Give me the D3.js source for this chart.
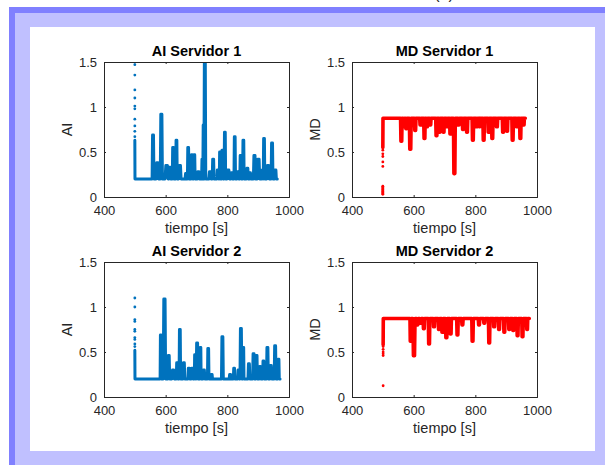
<!DOCTYPE html>
<html>
<head>
<meta charset="utf-8">
<script src="https://cdn.jsdelivr.net/npm/d3@7"></script>
<style>
  html, body { margin: 0; padding: 0; background: #fff; }
  svg { display: block; font-family: "Liberation Sans", Arial, Helvetica, sans-serif; }
</style>
</head>
<body>
<svg id="chart" width="605" height="465"></svg>
<script>
// ---- data -------------------------------------------------------------
const xTicks = [400, 600, 800, 1000];
const yTicks = [0, 0.5, 1, 1.5];
const xLabel = "tiempo [s]";

// Servidor 1, AI: baseline, active span, start-up burst and spikes (time, peak, duration s)
const ai1Base = 0.2;
const ai1Span = [502, 962];
const ai1BurstT = 500;
const ai1Burst = [1.5, 1.47, 1.355, 1.19, 1.1, 1.01, 0.98, 0.865, 0.79, 0.73, 0.67];
const ai1BurstRun = [0.63, 0.2];
const ai1SpikeT = [559, 573, 586, 603, 613, 624, 635, 646, 666, 673, 685, 693, 706, 719, 723, 727, 744, 754, 769, 776, 784, 792, 803, 814, 824, 834, 843, 852, 865, 874, 888, 901, 913, 919, 932, 945, 956];
const ai1SpikeV = [0.69, 0.38, 0.92, 0.35, 0.33, 0.55, 0.63, 0.35, 0.26, 0.55, 0.47, 0.47, 0.28, 0.42, 0.8, 1.5, 0.28, 0.42, 0.3, 0.5, 0.52, 0.72, 0.3, 0.27, 0.67, 0.28, 0.46, 0.63, 0.32, 0.27, 0.46, 0.42, 0.3, 0.65, 0.35, 0.6, 0.3];
const ai1SpikeW = [6, 8, 7, 10, 6, 5, 5, 8, 6, 5, 5, 5, 8, 5, 5, 6, 8, 6, 6, 4, 5, 5, 8, 5, 5, 6, 5, 5, 6, 4, 7, 8, 4, 5, 8, 6, 6];

// Servidor 1, MD
const md1Base = 0.875;
const md1Span = [503, 962];
const md1BurstT = 500;
const md1Burst = [0.03, 0.04, 0.05, 0.06, 0.07, 0.08, 0.09, 0.1, 0.11, 0.12, 0.34, 0.39, 0.45, 0.48, 0.52];
const md1BurstRun = [0.55, 0.875];
const md1SpikeT = [560, 568, 576, 589, 605, 622, 635, 643, 654, 674, 684, 697, 708, 719, 732, 746, 760, 773, 792, 805, 814, 827, 843, 855, 870, 890, 903, 921, 935, 946, 957];
const md1SpikeV = [0.62, 0.78, 0.76, 0.53, 0.74, 0.8, 0.65, 0.78, 0.8, 0.68, 0.72, 0.72, 0.78, 0.7, 0.26, 0.8, 0.75, 0.72, 0.63, 0.78, 0.78, 0.63, 0.72, 0.65, 0.78, 0.72, 0.73, 0.63, 0.78, 0.65, 0.8];
const md1SpikeW = [5, 5, 5, 6, 5, 5, 5, 5, 5, 5, 5, 5, 5, 5, 6, 5, 5, 5, 5, 5, 4, 5, 5, 5, 5, 5, 5, 5, 5, 5, 4];

// Servidor 2, AI
const ai2Base = 0.2;
const ai2Span = [502, 971];
const ai2BurstT = 500;
const ai2Burst = [1.1, 1.0, 0.86, 0.84, 0.75, 0.73, 0.66, 0.64, 0.59, 0.56];
const ai2BurstRun = [0.52, 0.2];
const ai2SpikeT = [584, 596, 610, 624, 637, 646, 659, 675, 686, 695, 702, 713, 724, 738, 749, 784, 809, 822, 836, 844, 852, 870, 885, 895, 906, 917, 930, 941, 955, 966];
const ai2SpikeV = [0.69, 1.09, 0.46, 0.3, 0.38, 0.75, 0.38, 0.32, 0.32, 0.47, 0.6, 0.55, 0.3, 0.54, 0.25, 0.67, 0.25, 0.32, 0.3, 0.76, 0.55, 0.37, 0.48, 0.46, 0.34, 0.4, 0.55, 0.35, 0.57, 0.42];
const ai2SpikeW = [4, 8, 6, 8, 5, 5, 6, 6, 6, 4, 6, 4, 6, 5, 6, 6, 6, 5, 5, 6, 4, 6, 6, 5, 5, 5, 6, 6, 6, 5];

// Servidor 2, MD
const md2Base = 0.872;
const md2Span = [503, 975];
const md2BurstT = 501;
const md2Burst = [0.125, 0.46, 0.48, 0.5, 0.53, 0.56];
const md2BurstRun = [0.58, 0.872];
const md2SpikeT = [590, 601, 612, 622, 633, 650, 666, 682, 693, 706, 720, 742, 758, 791, 812, 829, 845, 861, 877, 894, 910, 923, 937, 953, 968];
const md2SpikeV = [0.62, 0.46, 0.8, 0.82, 0.76, 0.59, 0.78, 0.75, 0.72, 0.66, 0.7, 0.69, 0.8, 0.62, 0.8, 0.82, 0.6, 0.78, 0.75, 0.72, 0.75, 0.74, 0.68, 0.67, 0.75];
const md2SpikeW = [4, 7, 5, 5, 5, 5, 5, 5, 5, 6, 5, 5, 5, 5, 5, 5, 5, 5, 5, 5, 5, 5, 5, 5, 4];

const panels = [
  { title: "AI Servidor 1", ylab: "AI", color: "#0072BD", col: 0, row: 0,
    base: ai1Base, span: ai1Span, burstT: ai1BurstT, burst: ai1Burst, run: ai1BurstRun,
    st: ai1SpikeT, sv: ai1SpikeV, sw: ai1SpikeW, stroke: 3 },
  { title: "MD Servidor 1", ylab: "MD", color: "#FF0000", col: 1, row: 0,
    base: md1Base, span: md1Span, burstT: md1BurstT, burst: md1Burst, run: md1BurstRun,
    st: md1SpikeT, sv: md1SpikeV, sw: md1SpikeW, stroke: 3.6 },
  { title: "AI Servidor 2", ylab: "AI", color: "#0072BD", col: 0, row: 1,
    base: ai2Base, span: ai2Span, burstT: ai2BurstT, burst: ai2Burst, run: ai2BurstRun,
    st: ai2SpikeT, sv: ai2SpikeV, sw: ai2SpikeW, stroke: 3 },
  { title: "MD Servidor 2", ylab: "MD", color: "#FF0000", col: 1, row: 1,
    base: md2Base, span: md2Span, burstT: md2BurstT, burst: md2Burst, run: md2BurstRun,
    st: md2SpikeT, sv: md2SpikeV, sw: md2SpikeW, stroke: 3.6 }
];

// ---- layout -----------------------------------------------------------
const svg = d3.select("#chart");
const ink = "#262626";
const colX = [104, 352], rowY = [62, 262];
const pw = 185, ph = 135;

// page frame
svg.append("text").attr("x", 444).attr("y", -1).attr("text-anchor", "middle")
  .attr("font-size", 16).attr("fill", "#222").text("(a)");
svg.append("rect").attr("x", 9).attr("y", 7).attr("width", 596).attr("height", 458).attr("fill", "#8080FF");
svg.append("rect").attr("x", 15).attr("y", 13).attr("width", 590).attr("height", 452).attr("fill", "#C0C0FF");
svg.append("rect").attr("x", 30).attr("y", 27).attr("width", 565).attr("height", 424).attr("fill", "#FFFFFF");

const defs = svg.append("defs");

panels.forEach((p, i) => {
  const ox = colX[p.col], oy = rowY[p.row];
  const g = svg.append("g").attr("transform", `translate(${ox},${oy})`);
  const x = d3.scaleLinear().domain([400, 1000]).range([0, pw]);
  const y = d3.scaleLinear().domain([0, 1.5]).range([ph, 0]);

  defs.append("clipPath").attr("id", "clip" + i)
    .append("rect").attr("x", 0).attr("y", 0).attr("width", pw).attr("height", ph);

  // series vertices: burst run, baseline, then each spike as a narrow column
  const pts = [[p.burstT, p.run[0]], [p.burstT + 0.5, p.run[1]], [p.span[0], p.base]];
  p.st.forEach((t, k) => {
    const w = p.sw[k], v = p.sv[k];
    pts.push([t - w / 2, p.base], [t - w / 4, v], [t + w / 4, v], [t + w / 2, p.base]);
  });
  pts.push([p.span[1], p.base]);

  const data = g.append("g").attr("clip-path", `url(#clip${i})`);
  data.append("path")
    .attr("d", d3.line().x(d => x(d[0])).y(d => y(d[1]))(pts))
    .attr("fill", "none").attr("stroke", p.color)
    .attr("stroke-width", p.stroke).attr("stroke-linejoin", "round").attr("stroke-linecap", "round");
  data.selectAll("circle").data(p.burst).join("circle")
    .attr("cx", x(p.burstT)).attr("cy", d => y(d)).attr("r", 1.4).attr("fill", p.color);

  // axes (inward ticks, boxed)
  const ax = g.append("g").attr("transform", `translate(0,${ph})`)
    .call(d3.axisBottom(x).tickValues(xTicks).tickSize(-2).tickPadding(9).tickFormat(d3.format("d")));
  const ay = g.append("g")
    .call(d3.axisLeft(y).tickValues(yTicks).tickSize(-2).tickPadding(7).tickFormat(d => String(d)));
  const axTop = g.append("g").call(d3.axisTop(x).tickValues(xTicks).tickSize(-2).tickFormat(""));
  const ayR = g.append("g").attr("transform", `translate(${pw},0)`)
    .call(d3.axisRight(y).tickValues(yTicks).tickSize(-2).tickFormat(""));
  [ax, ay, axTop, ayR].forEach(a => {
    a.select(".domain").attr("stroke", ink).attr("stroke-width", 1);
    a.selectAll(".tick line").attr("stroke", ink);
    a.selectAll(".tick text").attr("fill", ink).attr("font-size", 13)
      .attr("font-family", "'Liberation Sans', Arial, sans-serif");
  });
  ax.selectAll(".tick text").attr("dy", "0.71em");

  g.append("text").attr("x", pw / 2).attr("y", -6).attr("text-anchor", "middle")
    .attr("font-weight", "bold").attr("font-size", 14.5).attr("fill", "#000").text(p.title);
  g.append("text").attr("x", pw / 2).attr("y", ph + 36).attr("text-anchor", "middle")
    .attr("font-size", 14.5).attr("fill", ink).text(xLabel);
  g.append("text").attr("transform", `translate(-32,${ph / 2}) rotate(-90)`)
    .attr("text-anchor", "middle").attr("font-size", 14.5).attr("fill", ink).text(p.ylab);
});
</script>
</body>
</html>
